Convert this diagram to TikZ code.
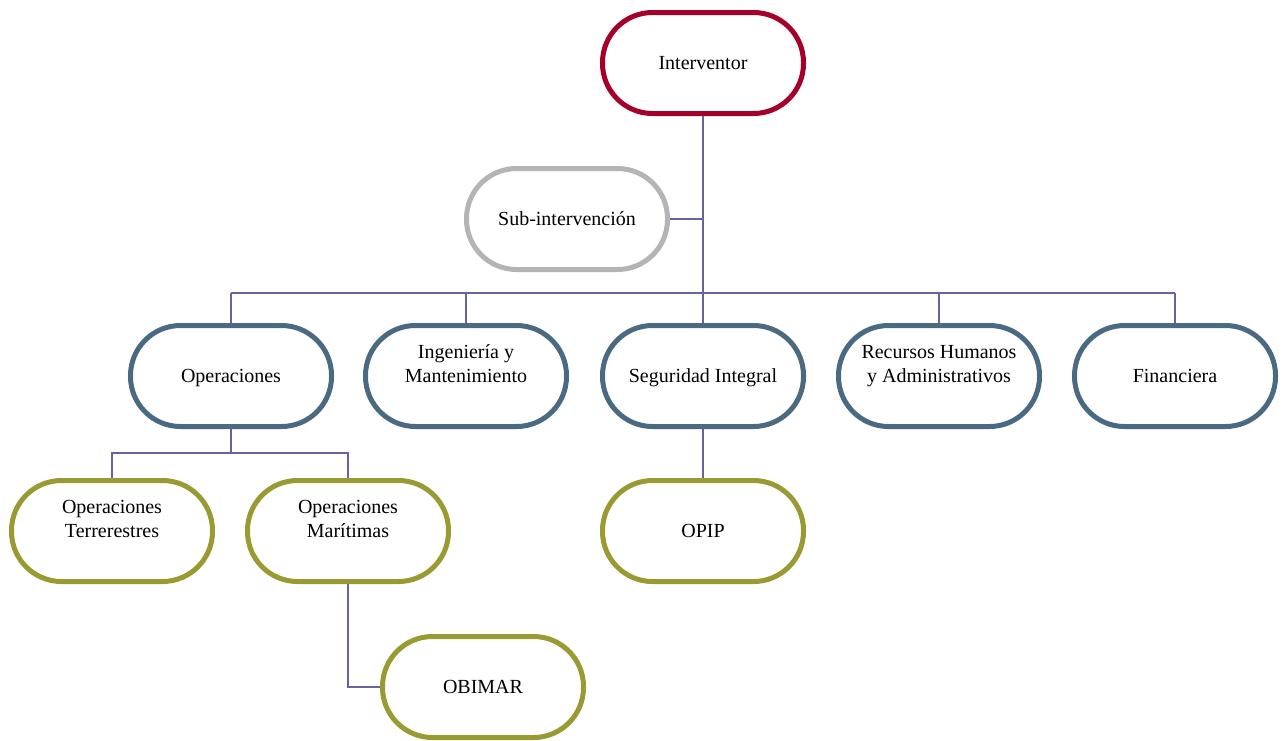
\documentclass[tikz,border=0pt]{standalone}
\usepackage{fontspec}
\setmainfont{Liberation Serif}
\usetikzlibrary{positioning}
\definecolor{topred}{HTML}{A5002A}
\definecolor{subgrey}{HTML}{B4B4B4}
\definecolor{deptblue}{HTML}{4A6A82}
\definecolor{unitolive}{HTML}{9A9A32}
\definecolor{linkcol}{HTML}{6663A0}

\begin{document}
\begin{tikzpicture}[x=0.5pt,y=-0.5pt,every node/.style={rectangle, rounded corners=25pt, line width=2.5pt, fill=white, minimum width=100.5pt, minimum height=50.5pt, inner sep=0pt, align=center, font=\fontsize{10}{12}\selectfont}]

	\tikzset{edge/.style = {draw=linkcol, line width=1pt}}
	\tikzset{oneline/.style = {text height=6.5pt, text depth=0pt}}
	\tikzset{twoline/.style = {text depth=12pt}}

	\useasboundingbox (0,0) rectangle (1283,740);

	\node[draw=topred, oneline] (int)  at (703,63)   {Interventor};
	\node[draw=subgrey, oneline] (sub)  at (567,219)  {Sub-intervención};

	\node[draw=deptblue, oneline] (ope)  at (231,376)  {Operaciones};
	\node[draw=deptblue, twoline] (ing)  at (466,376)  {Ingeniería y\\Mantenimiento};
	\node[draw=deptblue, oneline] (seg)  at (703,376)  {Seguridad Integral};
	\node[draw=deptblue, twoline] (rec)  at (939,376)  {Recursos Humanos\\y Administrativos};
	\node[draw=deptblue, oneline] (fin)  at (1175,376) {Financiera};

	\node[draw=unitolive, twoline] (ter)  at (112,531)  {Operaciones\\Terrerestres};
	\node[draw=unitolive, twoline] (mar)  at (348,531)  {Operaciones\\Marítimas};
	\node[draw=unitolive, oneline] (opi)  at (703,531)  {OPIP};
	\node[draw=unitolive, oneline] (obi)  at (483,687)  {OBIMAR};

	\coordinate (b1) at (231,293);
	\coordinate (b2) at (1175,293);
	\coordinate (b3) at (231,453);

	\draw[edge] (int) -- (seg);
	\draw[edge] (sub) -- (sub -| int);
	\draw[edge] (b1) -- (b2);
	\foreach \dept in {ope,ing,rec,fin}
	\draw[edge] (\dept.north) -- (\dept.north |- b1);
	\draw[edge] (ope) -- (b3);
	\draw[edge] (ter.north) |- (b3) -| (mar.north);
	\draw[edge] (seg) -- (opi);
	\draw[edge] (mar.south) |- (obi.west);

\end{tikzpicture}
\end{document}
